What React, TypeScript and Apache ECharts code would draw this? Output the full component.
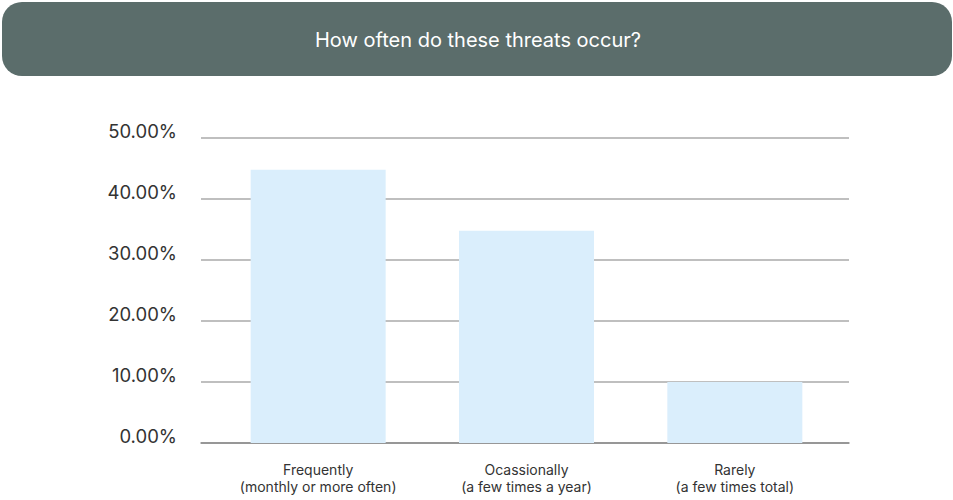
import React, { useEffect, useRef } from "react";
import * as echarts from "echarts";

const categories = ["Frequently\n(monthly or more often)", "Ocassionally\n(a few times a year)", "Rarely\n(a few times total)"];
const values = [44.8, 34.8, 10.0];
const yTicks = [0, 10, 20, 30, 40, 50];
const title = "How often do these threats occur?";

export default function App() {
  const ref = useRef<HTMLDivElement>(null);
  useEffect(() => {
    document.body.style.margin = "0";
    const chart = echarts.init(ref.current!, null, { renderer: "svg" });
    const font = "Inter, 'Open Sans', sans-serif";
    chart.setOption({
      animation: false,
      backgroundColor: "#ffffff",
      graphic: [
        {
          type: "rect",
          shape: { x: 2, y: 2, width: 950, height: 74, r: 20 },
          style: { fill: "#5b6d6b" },
          z: 0,
        },
        {
          type: "text",
          x: 478,
          y: 40,
          style: {
            text: title,
            fill: "#ffffff",
            font: `20px ${font}`,
            align: "center",
            verticalAlign: "middle",
          },
          z: 1,
        },
      ],
      grid: [
        { left: 201, right: 104, top: 138, bottom: 57, containLabel: false },
        { left: 214, right: 114, top: 138, bottom: 57, containLabel: false },
      ],
      xAxis: [
        {
          type: "category",
          gridIndex: 0,
          data: categories,
          show: true,
          axisLine: { show: true, lineStyle: { color: "#8a8a8a", width: 1.5 } },
          axisTick: { show: false },
          axisLabel: { show: false },
        },
        {
          type: "category",
          gridIndex: 1,
          data: categories,
          axisLine: { show: false },
          axisTick: { show: false },
          axisLabel: {
            color: "#333333",
            fontSize: 14,
            fontFamily: font,
            lineHeight: 17,
            margin: 18,
          },
        },
      ],
      yAxis: [
        {
          type: "value",
          gridIndex: 0,
          min: 0,
          max: 50,
          interval: 10,
          axisLine: { show: false },
          axisTick: { show: false },
          splitLine: { lineStyle: { color: "#aaaaaa", width: 1.5 } },
          axisLabel: {
            formatter: (v: number) => (yTicks.includes(v) ? v.toFixed(2) + "%" : ""),
            color: "#333333",
            fontSize: 18.5,
            fontFamily: font,
            margin: 24,
            verticalAlign: "bottom",
            lineHeight: 15,
          },
        },
        {
          type: "value",
          gridIndex: 1,
          min: 0,
          max: 50,
          interval: 10,
          show: false,
          splitLine: { show: false },
        },
      ],
      series: [
        {
          type: "bar",
          xAxisIndex: 1,
          yAxisIndex: 1,
          data: values,
          barWidth: 135,
          itemStyle: { color: "#daeefc" },
          z: 3,
        },
      ],
    });
    return () => chart.dispose();
  }, []);
  return <div ref={ref} style={{ width: 953, height: 500 }} />;
}
